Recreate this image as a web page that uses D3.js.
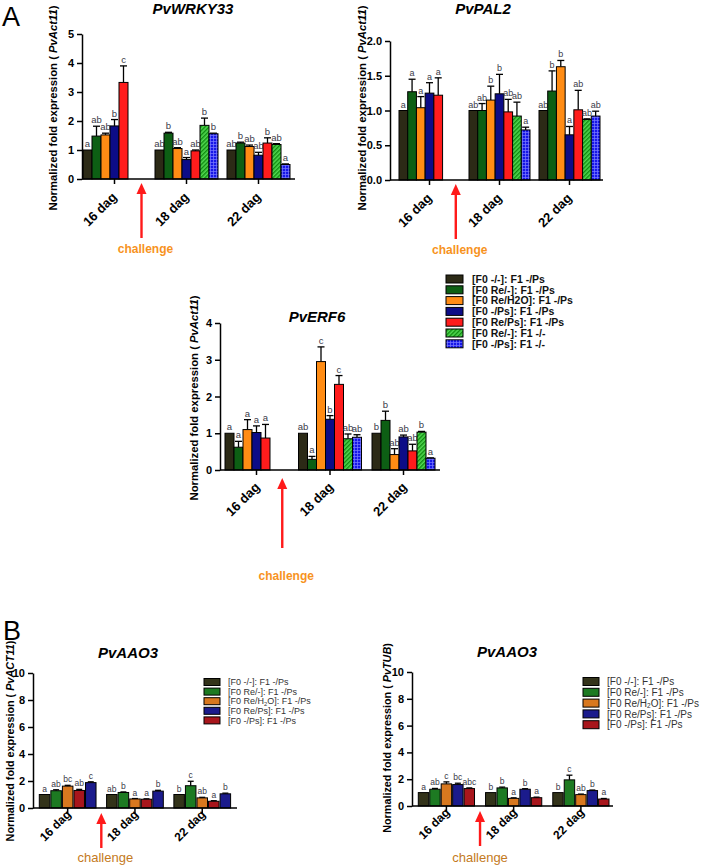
<!DOCTYPE html>
<html><head><meta charset="utf-8">
<script src="https://cdn.jsdelivr.net/npm/d3@7"></script>
<style>body{margin:0;background:#fff}svg{display:block}text{font-family:"Liberation Sans",Arial,sans-serif}</style>
</head><body><svg id="c" width="708" height="865"></svg>
<script>
// ---------- DATA ----------
const groups = ["16 dag", "18 dag", "22 dag"];
const seriesA = ["[F0 -/-]: F1 -/Ps", "[F0 Re/-]: F1 -/Ps", "[F0 Re/H2O]: F1 -/Ps", "[F0 -/Ps]: F1 -/Ps", "[F0 Re/Ps]: F1 -/Ps", "[F0 Re/-]: F1 -/-", "[F0 -/Ps]: F1 -/-"];
const seriesBLeft = ["[F0 -/-]: F1 -/Ps", "[F0 Re/-]: F1 -/Ps", "[F0 Re/H2O]: F1 -/Ps", "[F0 Re/Ps]: F1 -/Ps", "[F0 -/Ps]: F1 -/Ps"];
const seriesBRight = ["[F0 -/-]: F1 -/Ps", "[F0 Re/-]: F1 -/Ps", "[F0 Re/H2O]: F1 -/Ps", "[F0 Re/Ps]: F1 -/Ps", "[F0 -/Ps]: F1 -/Ps"];

const wrky33Mean = [[1.0, 1.48, 1.52, 1.83, 3.33, null, null], [1.0, 1.58, 1.05, 0.67, 0.97, 1.85, 1.56], [1.0, 1.24, 1.12, 0.82, 1.24, 1.19, 0.50]];
const wrky33Err  = [[0, 0.34, 0.06, 0.22, 0.57, null, null], [0, 0.03, 0.03, 0.07, 0.03, 0.25, 0.02], [0, 0.03, 0.05, 0.10, 0.18, 0.03, 0.02]];
const wrky33Sig  = [["a", "ab", "ab", "b", "c"], ["ab", "b", "ab", "a", "ab", "b", "b"], ["ab", "b", "ab", "ab", "b", "ab", "a"]];

const pal2Mean = [[1.0, 1.27, 1.04, 1.25, 1.22, null, null], [1.0, 1.0, 1.15, 1.24, 0.98, 0.92, 0.72], [1.0, 1.28, 1.63, 0.65, 1.01, 0.87, 0.92]];
const pal2Err  = [[0, 0.18, 0.16, 0.15, 0.25, null, null], [0, 0.10, 0.20, 0.28, 0.18, 0.20, 0.04], [0, 0.29, 0.09, 0.12, 0.28, 0.01, 0.07]];
const pal2Sig  = [["a", "a", "a", "a", "a"], ["ab", "ab", "b", "b", "ab", "ab", "a"], ["ab", "b", "b", "a", "ab", "ab", "ab"]];

const erf6Mean = [[1.0, 0.62, 1.10, 1.02, 0.87, null, null], [1.0, 0.29, 2.95, 1.38, 2.33, 0.85, 0.89], [1.0, 1.35, 0.42, 0.90, 0.52, 1.03, 0.32]];
const erf6Err  = [[0, 0.16, 0.27, 0.18, 0.37, null, null], [0, 0.08, 0.40, 0.10, 0.24, 0.13, 0.07], [0, 0.25, 0.16, 0.05, 0.18, 0.02, 0.01]];
const erf6Sig  = [["a", "a", "a", "a", "a"], ["ab", "a", "c", "b", "c", "ab", "ab"], ["b", "b", "ab", "ab", "ab", "b", "a"]];

const aao3ActMean = [[1.0, 1.28, 1.62, 1.30, 1.88], [1.0, 1.15, 0.67, 0.65, 1.25], [1.0, 1.65, 0.75, 0.50, 1.05]];
const aao3ActErr  = [[0, 0.07, 0.06, 0.08, 0.06], [0, 0.04, 0.03, 0.03, 0.06], [0, 0.33, 0.04, 0.04, 0.05]];
const aao3ActSig  = [["a", "ab", "bc", "ab", "c"], ["ab", "b", "a", "a", "b"], ["b", "c", "ab", "a", "b"]];

const aao3TubMean = [[1.0, 1.25, 1.65, 1.60, 1.30], [1.0, 1.35, 0.57, 1.25, 0.62], [1.0, 1.95, 0.85, 1.15, 0.52]];
const aao3TubErr  = [[0, 0.06, 0.15, 0.10, 0.05], [0, 0.06, 0.04, 0.04, 0.04], [0, 0.35, 0.04, 0.04, 0.04]];
const aao3TubSig  = [["a", "ab", "c", "bc", "abc"], ["b", "b", "a", "b", "a"], ["b", "c", "ab", "b", "a"]];

const ticksA1 = [0, 1, 2, 3, 4, 5];
const ticksA2 = [0, 0.5, 1.0, 1.5, 2.0];
const ticksA3 = [0, 1, 2, 3, 4];
const ticksB = [0, 2, 4, 6, 8, 10];

// ---------- STYLES ----------
const colorsA = ["#2c2a16", "#0d5f14", "#ff8c14", "#0c0c87", "#ff1c1c", "url(#hatchG)", "url(#checkB)"];
const colorsBLeft = ["#33331a", "#1d7a22", "#d8781f", "#a8161c", "#1b1b8c"];
const colorsBRight = ["#33331a", "#1d7a22", "#d8781f", "#1b1b8c", "#a8161c"];
const legendColorsBLeft = ["#33331a", "#1d7a22", "#d8781f", "#1b1b8c", "#a8161c"];
const legendColorsBRight = ["#33331a", "#1d7a22", "#d8781f", "#1b1b8c", "#a8161c"];

const svg = d3.select("#c");
const defs = svg.append("defs");
const ph = defs.append("pattern").attr("id", "hatchG").attr("patternUnits", "userSpaceOnUse")
  .attr("width", 3).attr("height", 3).attr("patternTransform", "rotate(45)");
ph.append("rect").attr("width", 3).attr("height", 3).attr("fill", "#52d852");
ph.append("rect").attr("width", 1.4).attr("height", 3).attr("fill", "#0f8a0f");
const pc = defs.append("pattern").attr("id", "checkB").attr("patternUnits", "userSpaceOnUse")
  .attr("width", 3).attr("height", 3);
pc.append("rect").attr("width", 3).attr("height", 3).attr("fill", "#1616e8");
pc.append("path").attr("d", "M0 0.4H3M0.4 0V3").attr("stroke", "#7a7aff").attr("stroke-width", 0.8);

function italicLabel(sel, pre, it, post) {
  sel.append("tspan").text(pre);
  sel.append("tspan").attr("font-style", "italic").text(it);
  sel.append("tspan").text(post);
}

function drawPanel(p) {
  const g = svg.append("g");
  const y = d3.scaleLinear().domain([0, p.yMax]).range([p.y0, p.yTop]);
  const x = d3.scaleBand().domain(groups).range(p.band).paddingInner(p.padInner).paddingOuter(0);
  const xi = d3.scaleBand().domain(d3.range(p.nSlots)).range([0, x.bandwidth()]).paddingInner(p.slotPad);

  // bars
  p.means.forEach((arr, gi) => arr.forEach((v, si) => {
    if (v == null) return;
    const bx = x(groups[gi]) + xi(si), bw = xi.bandwidth();
    const cx = bx + bw / 2;
    const e = p.errs[gi][si] || 0;
    if (e > 0) {
      g.append("line").attr("x1", cx).attr("x2", cx).attr("y1", y(v)).attr("y2", y(v + e))
        .attr("stroke", "#000").attr("stroke-width", 1.3);
      g.append("line").attr("x1", cx - p.cap).attr("x2", cx + p.cap).attr("y1", y(v + e)).attr("y2", y(v + e))
        .attr("stroke", "#000").attr("stroke-width", 1.3);
    }
    g.append("rect").attr("x", bx).attr("y", y(v)).attr("width", bw).attr("height", p.y0 - y(v))
      .attr("fill", p.colors[si]).attr("stroke", "#000").attr("stroke-width", p.barStroke);
    const lab = p.sig[gi][si];
    if (lab) {
      g.append("text").attr("x", cx).attr("y", y(v + e) - 3).attr("text-anchor", "middle")
        .attr("font-size", p.sigFont).attr("fill", "#3a3a48").text(lab);
    }
  }));

  // y axis
  const ya = g.append("g").attr("transform", `translate(${p.ax},0)`)
    .call(d3.axisLeft(y).tickValues(p.yTicks).tickFormat(p.fmt).tickSize(5).tickSizeOuter(0).tickPadding(3));
  ya.select(".domain").attr("stroke", "#000").attr("stroke-width", 1.5);
  ya.selectAll(".tick line").attr("stroke", "#000").attr("stroke-width", 1.5);
  ya.selectAll(".tick text").attr("font-family", "Liberation Sans, Arial, sans-serif")
    .attr("font-size", p.tickFont).attr("font-weight", "bold").attr("fill", "#000");

  // x axis
  const xa = g.append("g").attr("transform", `translate(0,${p.y0})`)
    .call(d3.axisBottom(x).tickSize(5).tickSizeOuter(0).tickFormat(""));
  xa.select(".domain").remove();
  xa.selectAll(".tick line").attr("stroke", "#000").attr("stroke-width", 1.5);
  g.append("line").attr("x1", p.ax).attr("x2", p.axEnd).attr("y1", p.y0).attr("y2", p.y0)
    .attr("stroke", "#000").attr("stroke-width", 1.5);
  groups.forEach(gr => {
    const cx = x(gr) + x.bandwidth() / 2;
    g.append("text").attr("transform", `translate(${cx + p.lblDx},${p.y0 + p.lblDy}) rotate(-45)`)
      .attr("text-anchor", "end").attr("font-size", p.lblFont).attr("font-weight", "bold").attr("fill", "#000").text(gr);
  });

  // title
  g.append("text").attr("x", p.titleX).attr("y", p.titleY).attr("text-anchor", "middle")
    .attr("font-size", p.titleFont).attr("font-weight", "bold").attr("font-style", "italic").text(p.title);

  // y label
  const yl = g.append("text").attr("transform", `translate(${p.ylX},${p.ylY}) rotate(-90)`)
    .attr("text-anchor", "middle").attr("font-size", p.ylFont).attr("font-weight", "bold").attr("fill", "#000");
  italicLabel(yl, "Normalized fold expression ( ", p.ylRef, ")");

  // challenge arrow
  const g1End = x(groups[0]) + xi(p.means[0].filter(v => v != null).length - 1) + xi.bandwidth();
  const ax = (g1End + x(groups[1])) / 2 + (p.arrowShift || 0);
  g.append("line").attr("x1", ax).attr("x2", ax).attr("y1", p.y0 + p.arTop + 8).attr("y2", p.y0 + p.arBot)
    .attr("stroke", "#ff1a1a").attr("stroke-width", 2.4);
  g.append("path").attr("d", `M${ax},${p.y0 + p.arTop} L${ax - 5},${p.y0 + p.arTop + 11} L${ax + 5},${p.y0 + p.arTop + 11} Z`)
    .attr("fill", "#ff1a1a");
  g.append("text").attr("x", ax + p.chDx).attr("y", p.y0 + p.chDy).attr("text-anchor", "middle")
    .attr("font-size", p.chFont).attr("font-weight", p.chWeight).attr("fill", p.chColor).text("challenge");
}

function drawLegend(l) {
  const g = svg.append("g");
  l.labels.forEach((lab, i) => {
    const cy = l.y + i * l.step;
    g.append("rect").attr("x", l.x).attr("y", cy - l.h / 2).attr("width", l.w).attr("height", l.h)
      .attr("fill", l.colors[i]).attr("stroke", "#000").attr("stroke-width", 1);
    const t = g.append("text").attr("x", l.tx).attr("y", cy + l.font * 0.36).attr("font-size", l.font)
      .attr("font-weight", l.weight).attr("fill", l.fill);
    if (l.sub && lab.includes("H2O")) {
      const parts = lab.split("H2O");
      t.append("tspan").text(parts[0] + "H");
      t.append("tspan").attr("font-size", l.font * 0.65).attr("dy", 1.2).text("2");
      t.append("tspan").attr("dy", -1.2).text("O" + parts[1]);
    } else t.text(lab);
  });
}

// ---------- PANELS ----------
drawPanel({ title: "PvWRKY33", titleX: 193, titleY: 14, titleFont: 15,
  ax: 82, axEnd: 295, y0: 179, yTop: 34, yMax: 5, yTicks: ticksA1, fmt: d3.format("d"), tickFont: 11,
  band: [83, 290], padInner: 0.125, nSlots: 7, slotPad: 0, colors: colorsA, barStroke: 1, cap: 3.5, sigFont: 9.5,
  means: wrky33Mean, errs: wrky33Err, sig: wrky33Sig,
  lblDx: 3, lblDy: 19, lblFont: 13,
  ylX: 57, ylY: 108, ylFont: 11.3, ylRef: "PvAct11",
  arTop: 4, arBot: 59, chDx: 4, chDy: 74, chFont: 12, chWeight: "bold", chColor: "#f7931e" });

drawPanel({ title: "PvPAL2", titleX: 483, titleY: 14, titleFont: 15,
  ax: 390, axEnd: 603, y0: 180, yTop: 41, yMax: 2, yTicks: ticksA2, fmt: d3.format(".1f"), tickFont: 11,
  band: [399, 600], padInner: 0.1286, nSlots: 7, slotPad: 0, colors: colorsA, barStroke: 1, cap: 3.5, sigFont: 9,
  means: pal2Mean, errs: pal2Err, sig: pal2Sig,
  lblDx: 3, lblDy: 19, lblFont: 13,
  ylX: 366, ylY: 108, ylFont: 11.3, ylRef: "PvAct11",
  arTop: 4, arBot: 59, chDx: 4, chDy: 74, chFont: 12, chWeight: "bold", chColor: "#f7931e" });

drawPanel({ title: "PvERF6", titleX: 317, titleY: 322, titleFont: 15,
  ax: 220, axEnd: 440, y0: 470, yTop: 323, yMax: 4, yTicks: ticksA3, fmt: d3.format("d"), tickFont: 11,
  band: [225, 435], padInner: 0.143, nSlots: 7, slotPad: 0, colors: colorsA, barStroke: 1, cap: 3.5, sigFont: 9.5,
  means: erf6Mean, errs: erf6Err, sig: erf6Sig,
  lblDx: 4, lblDy: 18, lblFont: 13,
  ylX: 198, ylY: 398, ylFont: 11.3, ylRef: "PvAct11",
  arTop: 8, arBot: 78, arrowShift: -2, chDx: 4, chDy: 110, chFont: 12, chWeight: "bold", chColor: "#f7931e" });

drawPanel({ title: "PvAAO3", titleX: 128, titleY: 658, titleFont: 15,
  ax: 33, axEnd: 237, y0: 808, yTop: 673, yMax: 10, yTicks: ticksB, fmt: d3.format("d"), tickFont: 11,
  band: [39.3, 230.6], padInner: 0.157, nSlots: 5, slotPad: 0.09, colors: colorsBLeft, barStroke: 1, cap: 3, sigFont: 8.5,
  means: aao3ActMean, errs: aao3ActErr, sig: aao3ActSig,
  lblDx: 4, lblDy: 7, lblFont: 12,
  ylX: 14, ylY: 741, ylFont: 10.8, ylRef: "PvACT11",
  arTop: 5, arBot: 40, chDx: 4, chDy: 54, chFont: 13, chWeight: "normal", chColor: "#c47a22" });

drawPanel({ title: "PvAAO3", titleX: 507, titleY: 657, titleFont: 15,
  ax: 412, axEnd: 613, y0: 806, yTop: 672, yMax: 10, yTicks: ticksB, fmt: d3.format("d"), tickFont: 11,
  band: [418.3, 609], padInner: 0.164, nSlots: 5, slotPad: 0.09, colors: colorsBRight, barStroke: 1, cap: 3, sigFont: 8.5,
  means: aao3TubMean, errs: aao3TubErr, sig: aao3TubSig,
  lblDx: 4, lblDy: 7, lblFont: 12,
  ylX: 391, ylY: 738, ylFont: 10.8, ylRef: "PvTUB",
  arTop: 5, arBot: 40, chDx: 0, chDy: 56, chFont: 13, chWeight: "normal", chColor: "#c47a22" });

// ---------- LEGENDS ----------
drawLegend({ labels: seriesA, colors: colorsA, x: 446, y: 279, step: 10.8, w: 17, h: 8, tx: 472,
  font: 10.5, weight: "bold", fill: "#111", sub: false });
drawLegend({ labels: seriesBLeft, colors: legendColorsBLeft, x: 204, y: 682, step: 9.6, w: 16, h: 7, tx: 228,
  font: 9, weight: "normal", fill: "#333", sub: true });
drawLegend({ labels: seriesBRight, colors: legendColorsBRight, x: 583, y: 681.5, step: 10.8, w: 16, h: 8, tx: 607,
  font: 10, weight: "normal", fill: "#333", sub: true });

// panel letters
svg.append("text").attr("x", 2).attr("y", 26).attr("font-size", 27).text("A");
svg.append("text").attr("x", 3).attr("y", 640).attr("font-size", 27).text("B");
</script></body></html>
